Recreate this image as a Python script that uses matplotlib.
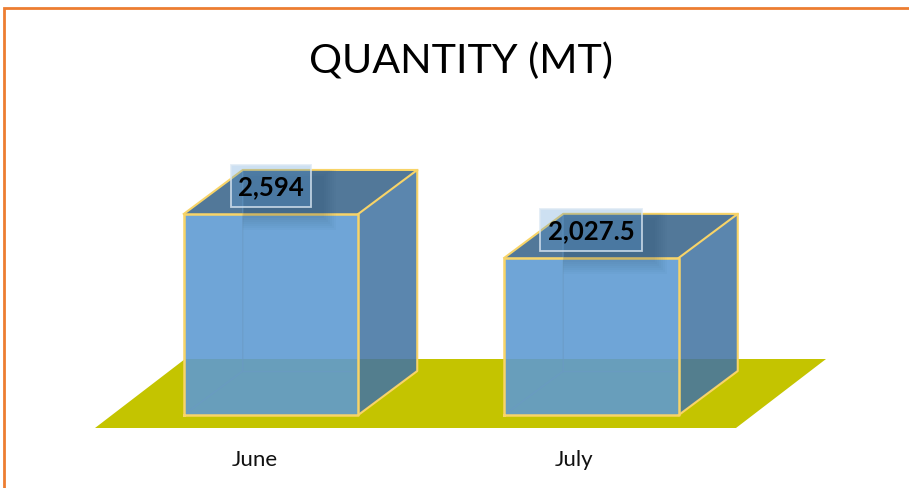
import matplotlib
matplotlib.use("Agg")
import matplotlib.pyplot as plt
from matplotlib.patches import Polygon, Rectangle

categories = ["June", "July"]
values = [2594, 2027.5]
value_labels = ["2,594", "2,027.5"]
title = "QUANTITY (MT)"

W, H = 909, 489
PX_X = 320.5      # pixels per category step
PX_Y = 0.0775     # pixels per unit
X0 = 271.0        # pixel of category 0
Y0 = 416.0        # pixel row of value 0
plt.rcParams["font.family"] = ["Lato", "DejaVu Sans"]

fig = plt.figure(figsize=(W / 100, H / 100), dpi=100, facecolor="white")
ax = fig.add_axes([0, 0, 1, 1])
ax.set_xlim((0 - X0) / PX_X, (W - X0) / PX_X)
ax.set_ylim((Y0 - H) / PX_Y, Y0 / PX_Y)
ax.axis("off")

dx = lambda p: p / PX_X
dy = lambda p: p / PX_Y
bw = dx(174.5)
ddx, ddy = dx(59), dy(44)
EDGE = "#F8D468"
HIDDEN = "#6A9AC4"

# floor
ax.add_patch(Polygon([(dx(95 - X0), dy(-13)), (dx(736 - X0), dy(-13)),
                      (dx(826 - X0), dy(56)), (dx(185 - X0), dy(56))],
                     closed=True, fc="#C4C400", ec="none", zorder=1))

for i, (c, v, lab) in enumerate(zip(categories, values, value_labels)):
    l, r = i - bw / 2, i + bw / 2
    # side and top faces
    ax.add_patch(Polygon([(r, 0), (r + ddx, ddy), (r + ddx, v + ddy), (r, v)],
                         closed=True, fc="#4475A3", alpha=0.88, ec="none", zorder=2))
    ax.add_patch(Polygon([(l, v), (r, v), (r + ddx, v + ddy), (l + ddx, v + ddy)],
                         closed=True, fc="#527899", ec="none", zorder=2))
    # front face
    ax.bar(i, v, width=bw, color="#5D9AD3", alpha=0.89, linewidth=0, zorder=3)
    # faint hidden edges
    ax.plot([l, l + ddx, l + ddx], [0, ddy, v + ddy], color=HIDDEN, lw=1, alpha=0.6, zorder=4)
    ax.plot([l + ddx, r], [ddy, ddy], color=HIDDEN, lw=1, alpha=0.6, zorder=4)
    # yellow edges
    ax.plot([l, r, r, l, l], [0, 0, v, v, 0], color=EDGE, lw=1.8, zorder=5)
    ax.plot([r, r + ddx, r + ddx, r], [0, ddy, v + ddy, v], color=EDGE, lw=1.5, zorder=5)
    ax.plot([r + ddx, l + ddx, l], [v + ddy, v + ddy, v], color=EDGE, lw=1.5, zorder=5)

    # value label box with a soft shadow kept inside the solid
    bx = l + dx(47 if i == 0 else 36)
    bw_l = dx(80 if i == 0 else 102)
    by = v + dy(7)
    bh = dy(42)
    clip = Polygon([(l + ddx, 0), (r, 0), (r + ddx, v + ddy), (l + ddx, v + ddy)],
                   closed=True, transform=ax.transData)
    for k in range(7):
        g = 12 - 2 * k
        s = Rectangle((bx + dx(13 - g), by - dy(11 + g)), bw_l + dx(2 * g), bh + dy(2 * g),
                      fc="#1F3B57", alpha=0.026, ec="none", zorder=6)
        ax.add_patch(s)
        s.set_clip_path(clip)
    ax.add_patch(Rectangle((bx, by), bw_l, bh, fc="#5A9BD5", alpha=0.3, ec="none", zorder=7))
    ax.add_patch(Rectangle((bx, by), bw_l, bh, fc="none", ec="#DCE8F3", alpha=0.8, lw=1.3, zorder=7))
    ax.text(bx + bw_l / 2, by + bh / 2, lab, ha="center", va="center", fontsize=18.5,
            fontweight="bold", color="black", zorder=8)
    ax.text(i - dx(16) if i == 0 else i - dx(17), dy(-44.5), c, ha="center", va="center",
            fontsize=16, color="#111111", zorder=8)

ax.text(461 / W, 1 - 61 / H, title, transform=ax.transAxes, ha="center", va="center",
        fontsize=29.7, color="black")

# outer border
ax.plot([4.2 / W, 4.2 / W, 1], [0, 1 - 8.5 / H, 1 - 8.5 / H], transform=ax.transAxes,
        color="#ED7D31", lw=2, solid_joinstyle="miter", zorder=9)

fig.savefig("out.png", dpi=100)
